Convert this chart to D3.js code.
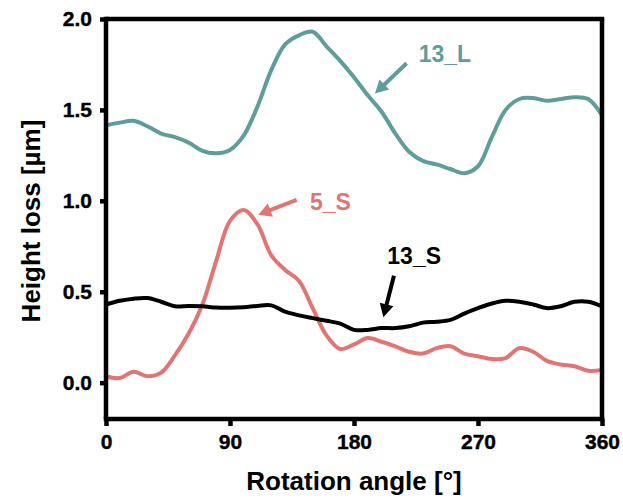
<!DOCTYPE html>
<html>
<head>
<meta charset="utf-8">
<script src="https://cdn.jsdelivr.net/npm/d3@7/dist/d3.min.js"></script>
<style>
  html, body { margin: 0; padding: 0; background: #fff; }
  svg { display: block; }
  text { font-family: "Liberation Sans", Arial, sans-serif; }
</style>
</head>
<body>
<svg id="chart" width="623" height="499"></svg>
<script>
// Rotation angle samples (degrees)
const angles = [0,10,20,30,40,50,60,70,80,90,100,110,120,130,140,150,160,170,180,
  190,200,210,220,230,240,250,260,270,280,290,300,310,320,330,340,350,360];

// Height loss (µm) per sample
const h13L = [1.415,1.43,1.44,1.41,1.37,1.35,1.32,1.275,1.262,1.28,1.36,1.52,1.72,1.86,1.91,1.93,1.85,1.77,1.68,
  1.58,1.49,1.37,1.27,1.22,1.20,1.175,1.152,1.19,1.35,1.50,1.56,1.565,1.55,1.56,1.57,1.56,1.47];
const h5S = [0.035,0.025,0.06,0.035,0.055,0.15,0.27,0.43,0.67,0.89,0.95,0.87,0.70,0.62,0.56,0.41,0.26,0.185,0.21,
  0.245,0.225,0.20,0.17,0.16,0.19,0.20,0.16,0.145,0.13,0.135,0.19,0.17,0.12,0.10,0.09,0.065,0.07];
const h13S = [0.43,0.45,0.462,0.465,0.445,0.42,0.422,0.42,0.413,0.412,0.415,0.422,0.425,0.39,0.37,0.355,0.34,0.325,0.29,
  0.29,0.30,0.30,0.31,0.33,0.335,0.345,0.38,0.41,0.435,0.45,0.445,0.43,0.41,0.42,0.445,0.445,0.42];

const xTicks = [0, 90, 180, 270, 360];
const yTicks = [0.0, 0.5, 1.0, 1.5, 2.0];

const seriesNames = ["13_L", "5_S", "13_S"];
const seriesValues = [h13L, h5S, h13S];
const seriesColors = ["#5f9d9a", "#e07673", "#000000"];

// Label + arrow for each series, in data units: [textAngle, textValue, tailAngle, tailValue, tipAngle, tipValue]
const labelPos = [
  [227, 1.765, 218.2, 1.757, 195.2, 1.59],
  [148, 0.951, 138.4, 1.005, 110.5, 0.923],
  [204.2, 0.654, 209, 0.588, 201.3, 0.36]
];

const svg = d3.select("#chart");
const mLeft = 106, mRight = 602, mTop = 19, mBottom = 419;

const x = d3.scaleLinear().domain([0, 360]).range([mLeft, mRight]);
const y = d3.scaleLinear().domain([-0.2, 2.0]).range([mBottom, mTop]);

const axisW = 4.5;

// Lines
const line = d3.line()
  .x((d, i) => x(angles[i]))
  .y(d => y(d))
  .curve(d3.curveCatmullRom.alpha(0.5));

seriesValues.forEach((vals, k) => {
  svg.append("path")
    .attr("d", line(vals))
    .attr("fill", "none")
    .attr("stroke", seriesColors[k])
    .attr("stroke-width", 4)
    .attr("stroke-linejoin", "round")
    .attr("stroke-linecap", "butt");
});

// Frame (top and right)
svg.append("line").attr("x1", mLeft).attr("x2", mRight + axisW / 2)
  .attr("y1", mTop).attr("y2", mTop).attr("stroke", "#000").attr("stroke-width", axisW);
svg.append("line").attr("x1", mRight).attr("x2", mRight)
  .attr("y1", mTop).attr("y2", mBottom).attr("stroke", "#000").attr("stroke-width", axisW);

// Axes
const xAxis = d3.axisBottom(x).tickValues(xTicks).tickSize(7).tickPadding(8).tickSizeOuter(0)
  .tickFormat(d3.format("d"));
const yAxis = d3.axisLeft(y).tickValues(yTicks).tickSize(6).tickPadding(8).tickSizeOuter(0)
  .tickFormat(d3.format(".1f"));

const gx = svg.append("g").attr("transform", `translate(0,${mBottom})`).call(xAxis);
const gy = svg.append("g").attr("transform", `translate(${mLeft},0)`).call(yAxis);

[gx, gy].forEach(g => {
  g.select(".domain").attr("stroke", "#000").attr("stroke-width", axisW);
  g.selectAll(".tick line").attr("stroke", "#000").attr("stroke-width", axisW);
  g.selectAll(".tick text")
    .attr("fill", "#000")
    .attr("stroke", "#000").attr("stroke-width", 0.4)
    .style("font-family", "'Liberation Sans', Arial, sans-serif")
    .style("font-size", "21px")
    .style("font-weight", "bold");
});
gx.select(".domain").attr("d", `M${mLeft - axisW / 2},0H${mRight + axisW / 2}`);
gy.select(".domain").attr("d", `M0,${mTop - axisW / 2}V${mBottom}`);

// Axis titles
svg.append("text")
  .attr("x", (mLeft + mRight) / 2).attr("y", 490)
  .attr("text-anchor", "middle")
  .style("font-size", "26px").style("font-weight", "bold")
  .text("Rotation angle [°]");

svg.append("text")
  .attr("transform", `translate(40,${(mTop + mBottom) / 2 + 2}) rotate(-90)`)
  .attr("text-anchor", "middle")
  .style("font-size", "26px").style("font-weight", "bold")
  .text("Height loss [µm]");

// Series labels with arrows
function arrow(x1, y1, x2, y2, color) {
  const dx = x2 - x1, dy = y2 - y1;
  const len = Math.hypot(dx, dy);
  const ux = dx / len, uy = dy / len;
  const head = 13, half = 7;
  const bx = x2 - ux * head, by = y2 - uy * head;
  svg.append("line")
    .attr("x1", x1).attr("y1", y1).attr("x2", bx + ux * 1).attr("y2", by + uy * 1)
    .attr("stroke", color).attr("stroke-width", 4);
  svg.append("path")
    .attr("d", `M${x2},${y2}L${bx - uy * half},${by + ux * half}L${bx + uy * half},${by - ux * half}Z`)
    .attr("fill", color);
}

labelPos.forEach((p, k) => {
  svg.append("text")
    .attr("x", x(p[0])).attr("y", y(p[1]))
    .attr("fill", seriesColors[k])
    .style("font-size", "23px").style("font-weight", "bold")
    .text(seriesNames[k]);
  arrow(x(p[2]), y(p[3]), x(p[4]), y(p[5]), seriesColors[k]);
});
</script>
</body>
</html>
